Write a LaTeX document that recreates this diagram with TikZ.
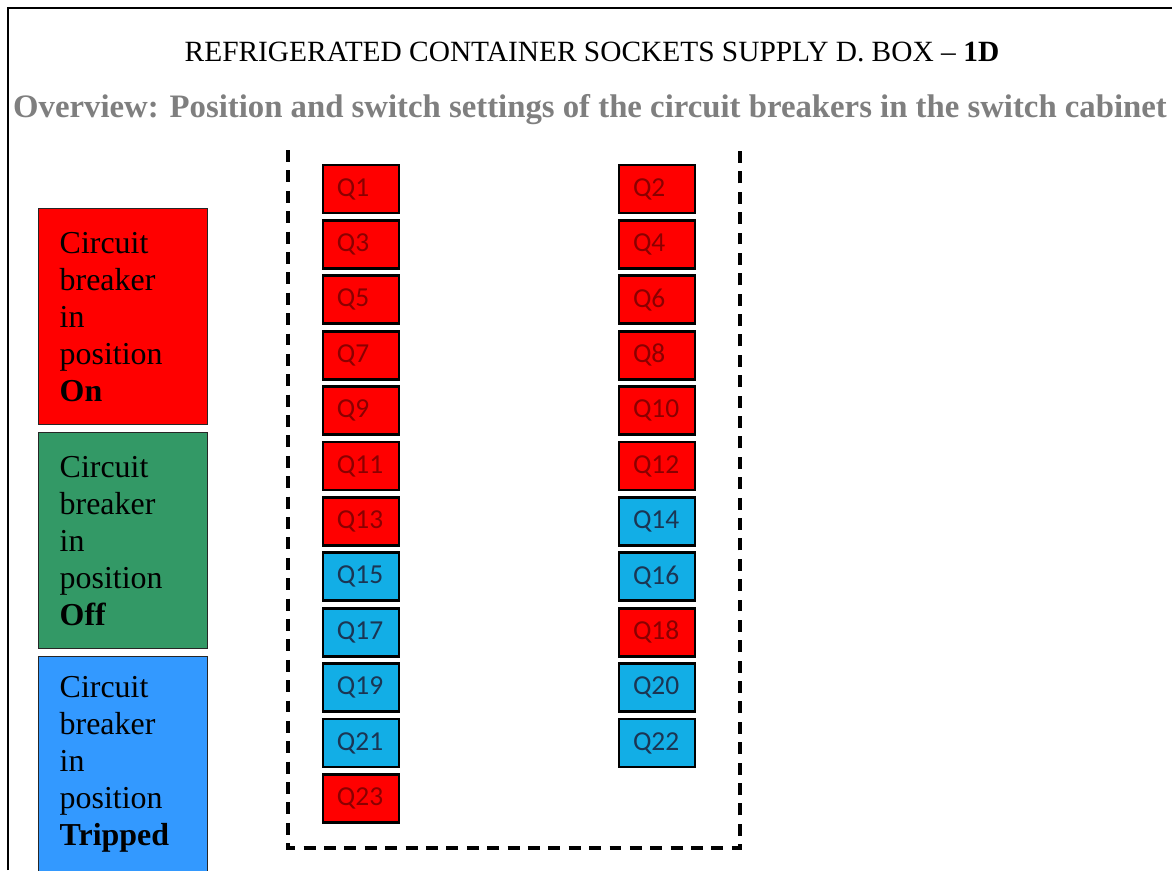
\documentclass[tikz,border=0pt]{standalone}
\usepackage{fontspec}
\setmainfont{Liberation Serif}
\newfontfamily\breakerfont{Carlito}
\definecolor{LegendOn}{HTML}{FF0000}
\definecolor{LegendOff}{HTML}{339966}
\definecolor{LegendTripped}{HTML}{3399FF}
\definecolor{BrkOn}{HTML}{FF0000}
\definecolor{BrkTripped}{HTML}{12AEE6}
\definecolor{BrkTextOn}{HTML}{8A0000}
\definecolor{BrkTextTripped}{HTML}{1B3553}
\definecolor{OverviewGray}{HTML}{7F7F7F}

\begin{document}
\begin{tikzpicture}[x=0.025cm, y=-0.025cm,
    legendbox/.style={draw=black!85, line width=1pt, anchor=north west,
        minimum height=5.4cm, text width=3.175cm, inner xsep=0.525cm,
        align=left, font=\fontsize{22.7}{26.3}\selectfont},
    breaker/.style={draw=black, line width=1.9pt, minimum height=1.2cm,
        text width=1.2cm, inner xsep=0.35cm, align=left,
        font=\breakerfont\fontsize{19.5}{19.5}\selectfont}]

    \useasboundingbox (0,0) rectangle (1172,870);

    % Rahmen
    \coordinate (frameBL) at (8,870);
    \coordinate (frameTL) at (8,8);
    \coordinate (frameTR) at (1172,8);
    \draw[line width=1.4pt] (frameBL) -- (frameTL) -- (frameTR);

    \node[font=\fontsize{20.9}{24}\selectfont] (title) at (592,52)
        {REFRIGERATED CONTAINER SOCKETS SUPPLY D. BOX -- \textbf{1D}};
    \node[text=OverviewGray, font=\bfseries\fontsize{23.3}{27}\selectfont] (overview) at (590,110)
        {Overview: Position and switch settings of the circuit breakers in the switch cabinet};

    % Legende
    \node[legendbox, fill=LegendOn] (legendOn) at (38,208)
        {Circuit\\breaker\\in\\position\\\textbf{On}};
    \node[legendbox, fill=LegendOff] (legendOff) at (38,432)
        {Circuit\\breaker\\in\\position\\\textbf{Off}};
    \node[legendbox, fill=LegendTripped] (legendTripped) at (38,656)
        {Circuit\\breaker\\in\\position\\\textbf{Tripped}};

    % Schaltschrank (oben offen)
    \coordinate (cabTL) at (288,150);
    \coordinate (cabBL) at (288,848);
    \coordinate (cabBR) at (740,848);
    \coordinate (cabTR) at (740,150);
    \draw[line width=3.2pt, dash pattern=on 8.5pt off 6pt] (cabTL) -- (cabBL) -- (cabBR) -- (cabTR);

    % Leistungsschalter
    \foreach \n/\s [count=\i from 0] in {1/On,3/On,5/On,7/On,9/On,11/On,13/On,
            15/Tripped,17/Tripped,19/Tripped,21/Tripped,23/On}
        \node[breaker, fill=Brk\s, text=BrkText\s] (Q\n) at (361,{189+\i*55.4}) {Q\n};
    \foreach \n/\s [count=\i from 0] in {2/On,4/On,6/On,8/On,10/On,12/On,
            14/Tripped,16/Tripped,18/On,20/Tripped,22/Tripped}
        \node[breaker, fill=Brk\s, text=BrkText\s] (Q\n) at (657,{189+\i*55.4}) {Q\n};

\end{tikzpicture}
\end{document}
